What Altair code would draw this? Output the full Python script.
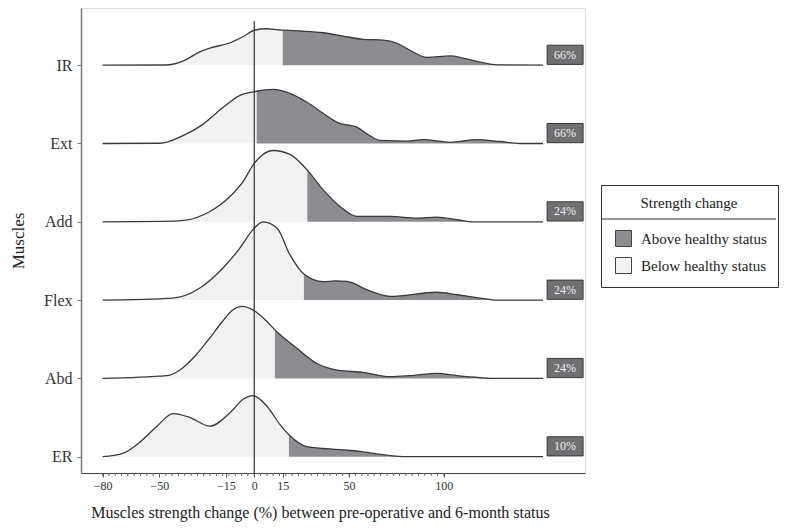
import altair as alt
import pandas as pd
import numpy as np

FONT = "Liberation Serif"

muscles = ["IR", "Ext", "Add", "Flex", "Abd", "ER"]
row_offsets = [5, 4, 3, 2, 1, 0]
thresholds = [15, 1.3, 28, 26.2, 10.9, 18.3]
percent_labels = ["66%", "66%", "24%", "24%", "24%", "10%"]
tick_values = [-80, -50, -15, 0, 15, 50, 100]

# density curves (x = strength change %, h = relative density; row spacing = 1)
ir_x = [-80, -47, -41.9, -36.5, -28.7, -23.4, -12.8, -6.0, 0.4, 6.7, 13.6, 15, 24.1, 36.3, 46.8, 57.4, 67.9, 75.3, 82.2, 91.1, 103.3, 110.2, 119.2, 128.2, 152.4]
ir_h = [0, 0.002, 0.018, 0.065, 0.17, 0.218, 0.286, 0.363, 0.449, 0.465, 0.449, 0.448, 0.436, 0.414, 0.372, 0.33, 0.32, 0.28, 0.19, 0.1, 0.118, 0.09, 0.038, 0.004, 0]

ext_x = [-80, -49.8, -37.6, -27.1, -16.5, -7.5, 0.4, 1.3, 9.9, 18.8, 27.8, 36.3, 43.7, 54.4, 60.0, 66.3, 80.6, 89.0, 103.3, 117.5, 129.7, 140.2, 152.4]
ext_h = [0, 0.003, 0.10, 0.244, 0.46, 0.615, 0.663, 0.667, 0.69, 0.64, 0.526, 0.385, 0.27, 0.205, 0.115, 0.04, 0.03, 0.05, 0.015, 0.05, 0.025, 0, 0]

add_x = [-80, -48, -37.3, -23.4, -12.8, -5.8, -0.5, 4.6, 10.0, 18.8, 28, 36.3, 45.2, 54.2, 71.6, 85.9, 96.4, 107.0, 115.4, 152.4]
add_h = [0, 0.004, 0.017, 0.132, 0.324, 0.517, 0.73, 0.86, 0.91, 0.86, 0.66, 0.41, 0.196, 0.068, 0.068, 0.047, 0.06, 0.026, 0, 0]

flex_x = [-80, -42.9, -28.7, -16.5, -7.5, -0.7, 4.6, 12.0, 18.8, 26.2, 36.3, 42.6, 48.9, 59.5, 71.6, 96.4, 107.0, 119.2, 128.2, 152.4]
flex_h = [0, 0.026, 0.154, 0.41, 0.667, 0.9, 1.0, 0.92, 0.58, 0.333, 0.235, 0.245, 0.24, 0.13, 0.047, 0.1, 0.068, 0.026, 0, 0]

abd_x = [-80, -46.1, -38.5, -31.5, -24.0, -17.0, -11.2, -6.5, -0.7, 6.7, 10.9, 22.5, 33.1, 43.7, 57.4, 71.6, 82.2, 96.4, 107.0, 119.2, 128.2, 152.4]
abd_h = [0, 0.035, 0.12, 0.28, 0.5, 0.72, 0.876, 0.92, 0.876, 0.727, 0.62, 0.385, 0.19, 0.106, 0.077, 0.022, 0.035, 0.064, 0.035, 0.01, 0, 0]

er_x = [-80, -69.8, -60.9, -51.3, -42.9, -33.9, -23.4, -12.8, -6.0, -0.7, 6.7, 13.6, 18.3, 27.8, 45.2, 55.7, 67.9, 80.6, 152.4]
er_h = [0, 0.038, 0.175, 0.39, 0.55, 0.5, 0.39, 0.56, 0.73, 0.78, 0.645, 0.41, 0.28, 0.13, 0.09, 0.068, 0.026, 0, 0]

curves_x = [ir_x, ext_x, add_x, flex_x, abd_x, er_x]
curves_h = [ir_h, ext_h, add_h, flex_h, abd_h, er_h]

ABOVE = "Above healthy status"
BELOW = "Below healthy status"
DARK = "#8d8d91"
LIGHT = "#f2f2f2"
LINE = "#3a3a3a"

W, H = 504, 465
x_scale = alt.Scale(domain=[-91.4, 174.5], nice=False, zero=False)
y_scale = alt.Scale(domain=[-0.208, 5.73], nice=False, zero=False)

label_map = "{" + ",".join(f"'{o}':'{m}'" for m, o in zip(muscles, row_offsets)) + "}"
x_axis = alt.Axis(values=tick_values, title="Muscles strength change (%) between pre-operative and 6-month status",
                  grid=False, tickSize=4, tickColor="#555", domainColor="#444", domainWidth=1.2,
                  labelFont=FONT, labelFontSize=12, labelColor="#333", labelPadding=3,
                  titleFont=FONT, titleFontSize=16, titleFontWeight="normal", titleColor="#222",
                  titlePadding=13, titleX=239, labelFlush=False, labelOverlap=False)
y_axis = alt.Axis(values=row_offsets, labelExpr=f"{label_map}[datum.value]", title="Muscles",
                  grid=False, tickSize=4, tickColor="#777", domainColor="#777", domainWidth=1.5,
                  labelFont=FONT, labelFontSize=16, labelColor="#333", labelPadding=5,
                  titleFont=FONT, titleFontSize=17, titleFontWeight="normal", titleColor="#222",
                  titlePadding=16)

color = alt.Color("status:N", scale=alt.Scale(domain=[ABOVE, BELOW], range=[DARK, LIGHT]),
                  legend=alt.Legend(title="Strength change", orient="none", legendX=520, legendY=177,
                                    strokeColor="#333", padding=11,
                                    titleAnchor="middle", titleFont=FONT, titleFontSize=15,
                                    titleFontWeight="normal", titleColor="#222", titlePadding=19,
                                    labelFont=FONT, labelFontSize=15, labelColor="#222",
                                    symbolType="square", symbolSize=256, symbolStrokeColor="#444",
                                    symbolStrokeWidth=1, symbolOpacity=1, rowPadding=6, labelOffset=9,
                                    symbolOffset=3))

layers = []
for m, off, thr, xs, hs in zip(muscles, row_offsets, thresholds, curves_x, curves_h):
    rows = []
    for xv, hv in zip(xs, hs):
        if xv <= thr:
            rows.append({"x": xv, "top": off + hv, "base": off, "status": BELOW})
        if xv >= thr:
            rows.append({"x": xv, "top": off + hv, "base": off, "status": ABOVE})
    adf = pd.DataFrame(rows)
    ldf = pd.DataFrame({"x": xs, "top": [off + h for h in hs]})
    area = alt.Chart(adf).mark_area(interpolate="monotone", opacity=1).encode(
        x=alt.X("x:Q", scale=x_scale, axis=x_axis),
        y=alt.Y("top:Q", scale=y_scale, axis=y_axis),
        y2="base:Q",
        color=color,
    )
    line = alt.Chart(ldf).mark_line(interpolate="monotone", color=LINE, strokeWidth=1.3).encode(
        x=alt.X("x:Q", scale=x_scale, axis=x_axis),
        y=alt.Y("top:Q", scale=y_scale, axis=y_axis),
    )
    layers += [area, line]

# minor ticks along x axis
minor = pd.DataFrame({"t": np.linspace(-80, 100, 55)})
minor_ticks = alt.Chart(minor).mark_rule(color="#666", strokeWidth=1).encode(
    x=alt.X("t:Q", scale=x_scale, axis=x_axis),
    y=alt.value(H), y2=alt.value(H + 3),
)

zero_line = alt.Chart(pd.DataFrame({"a": [0]})).mark_rule(color="#333", strokeWidth=1.2).encode(
    x=alt.X("a:Q", scale=x_scale, axis=x_axis),
    y=alt.datum(5.565), y2=alt.datum(-0.22),
)

boxes_df = pd.DataFrame({"muscle": muscles, "offset": row_offsets, "label": percent_labels})
box_base = alt.Chart(boxes_df).transform_calculate(
    b0="datum.offset + 0.01", b1="datum.offset + 0.255", mid="datum.offset + 0.133")
boxes = box_base.mark_rect(fill="#707073", stroke="#3a3a3a", strokeWidth=1).encode(
    x=alt.datum(154.5), x2=alt.datum(173.5),
    y=alt.Y("b1:Q", scale=y_scale, axis=y_axis), y2="b0:Q",
)
box_text = box_base.mark_text(font=FONT, fontSize=12, color="#eeeeee", baseline="middle").encode(
    x=alt.datum(164), y=alt.Y("mid:Q", scale=y_scale, axis=y_axis), text="label:N",
)

sep = alt.Chart(pd.DataFrame({"a": [0]})).mark_rule(color="#333", strokeWidth=1).encode(
    x=alt.value(520), x2=alt.value(695), y=alt.value(211),
)

chart = alt.layer(*layers, minor_ticks, zero_line, boxes, box_text, sep).properties(
    width=W, height=H,
    autosize=alt.AutoSizeParams(type="none"),
    padding={"left": 73, "top": 0, "right": 194, "bottom": 49},
).configure_view(stroke=None).configure(font=FONT).configure_legend(
    labelFont=FONT, titleFont=FONT
)

chart.save("out.html", embed_options={"renderer": "svg", "actions": False})
